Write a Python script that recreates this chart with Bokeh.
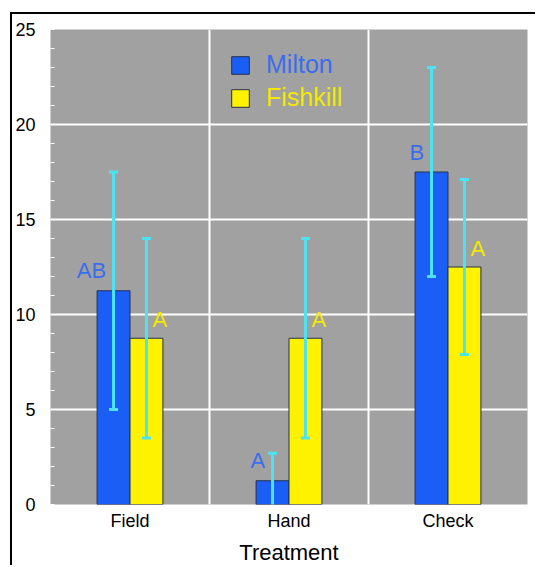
import numpy as np
from bokeh.plotting import figure
from bokeh.models import (ColumnDataSource, Range1d, FixedTicker, SingleIntervalTicker,
                          Legend, LegendItem)
from bokeh.core.properties import value
from bokeh.embed import file_html
from bokeh.resources import INLINE

# Mean values per treatment, with error half-widths and significance letters
treatments = ["Field", "Hand", "Check"]
milton = [11.25, 1.25, 17.5]
fishkill = [8.75, 8.75, 12.5]
milton_err = [6.25, 1.45, 5.5]
fishkill_err = [5.25, 5.25, 4.6]
milton_letters = ["AB", "A", "B"]
fishkill_letters = ["A", "A", "A"]
y_ticks = [0, 5, 10, 15, 20, 25]

FONT = "Liberation Sans"
BLUE = "#1b5ef6"
BLUE_TEXT = "#3a6ded"
YELLOW = "#fff200"
YELLOW_TEXT = "#f4e800"
CYAN = "#4ee3f2"
OUTLINE = "#26304f"
BAR_W = 0.207

centers = np.arange(len(treatments)) + 0.5

def series_source(vals, errs, letters, side):
    x = centers + side * BAR_W / 2
    vals = np.array(vals, dtype=float)
    errs = np.array(errs, dtype=float)
    return ColumnDataSource(dict(
        x=x, top=vals, lower=vals - errs, upper=vals + errs,
        letter=letters, edge=x + side * BAR_W / 2,
    ))

m_src = series_source(milton, milton_err, milton_letters, -1)
f_src = series_source(fishkill, fishkill_err, fishkill_letters, +1)

p = figure(width=525, height=553,
           x_range=Range1d(0, len(treatments)), y_range=Range1d(y_ticks[0], y_ticks[-1]),
           output_backend="svg", toolbar_location=None,
           min_border_left=38, min_border_top=15, min_border_right=10, min_border_bottom=60,
           background_fill_color="#a1a1a1", border_fill_color="white",
           outline_line_color=None)
p.margin = (12, 0, 0, 10)
p.styles = {"border-left": "2px solid black", "border-top": "2px solid black"}

# grid: horizontal at every 5, vertical between treatment groups
p.yaxis.ticker = SingleIntervalTicker(interval=5, num_minor_ticks=5)
p.ygrid.grid_line_color = "white"
p.ygrid.grid_line_width = 2
p.xgrid.ticker = FixedTicker(ticks=list(np.arange(1, len(treatments))))
p.xgrid.grid_line_color = "white"
p.xgrid.grid_line_width = 2

p.yaxis.axis_line_color = None
p.yaxis.major_tick_line_color = None
p.yaxis.major_tick_out = 0
p.yaxis.major_tick_in = 0
p.yaxis.minor_tick_line_color = "white"
p.yaxis.minor_tick_in = 4
p.yaxis.minor_tick_out = 0
p.yaxis.major_label_standoff = 15
p.yaxis.major_label_text_font = FONT
p.yaxis.major_label_text_font_size = "18px"
p.yaxis.major_label_text_color = "black"

p.xaxis.ticker = FixedTicker(ticks=list(centers))
p.xaxis.major_label_overrides = {float(c): t for c, t in zip(centers, treatments)}
p.xaxis.axis_line_color = None
p.xaxis.major_tick_line_color = None
p.xaxis.minor_tick_line_color = None
p.xaxis.major_tick_out = 0
p.xaxis.major_tick_in = 0
p.xaxis.minor_tick_out = 0
p.xaxis.minor_tick_in = 0
p.xaxis.major_label_standoff = 6
p.xaxis.major_label_text_font = FONT
p.xaxis.major_label_text_font_size = "18px"
p.xaxis.major_label_text_color = "black"
p.xaxis.axis_label = "Treatment"
p.xaxis.axis_label_text_font = FONT
p.xaxis.axis_label_text_font_size = "22px"
p.xaxis.axis_label_text_font_style = "normal"
p.xaxis.axis_label_text_color = "black"
p.xaxis.axis_label_standoff = 6

# bars
rm = p.vbar(x="x", top="top", bottom=0, width=BAR_W, source=m_src,
            fill_color=BLUE, line_color=OUTLINE, line_width=1)
rf = p.vbar(x="x", top="top", bottom=0, width=BAR_W, source=f_src,
            fill_color=YELLOW, line_color=OUTLINE, line_width=1)

# error bars with caps
for src in (m_src, f_src):
    p.segment(x0="x", y0="lower", x1="x", y1="upper", source=src,
              line_color=CYAN, line_width=3)
    for end in ("lower", "upper"):
        p.scatter(x="x", y=end, source=src, marker="dash", size=9,
                  line_color=CYAN, line_width=3)

# significance letters
p.text(x="edge", y="top", text="letter", source=m_src,
       text_align="right", text_baseline="middle", x_offset=9, y_offset=-20,
       text_font=value(FONT), text_font_size="22px", text_color=BLUE_TEXT)
p.text(x="edge", y="top", text="letter", source=f_src,
       text_align="center", text_baseline="middle", x_offset=-3, y_offset=-19,
       text_font=value(FONT), text_font_size="22px", text_color=YELLOW_TEXT)

# legend: one entry per box so each label keeps its own colour
for label, rend, color, ypos in (("Milton", rm, BLUE_TEXT, 425), ("Fishkill", rf, YELLOW_TEXT, 392)):
    leg = Legend(items=[LegendItem(label=label, renderers=[rend])],
                 location=(179, ypos), padding=0, margin=0, spacing=0,
                 glyph_width=22, glyph_height=22, label_height=22,
                 label_standoff=15, border_line_color=None,
                 background_fill_alpha=0,
                 label_text_font=FONT, label_text_font_size="25px",
                 label_text_color=color, label_text_baseline="middle")
    p.add_layout(leg)

open("out.html", "w").write(file_html(p, INLINE))
